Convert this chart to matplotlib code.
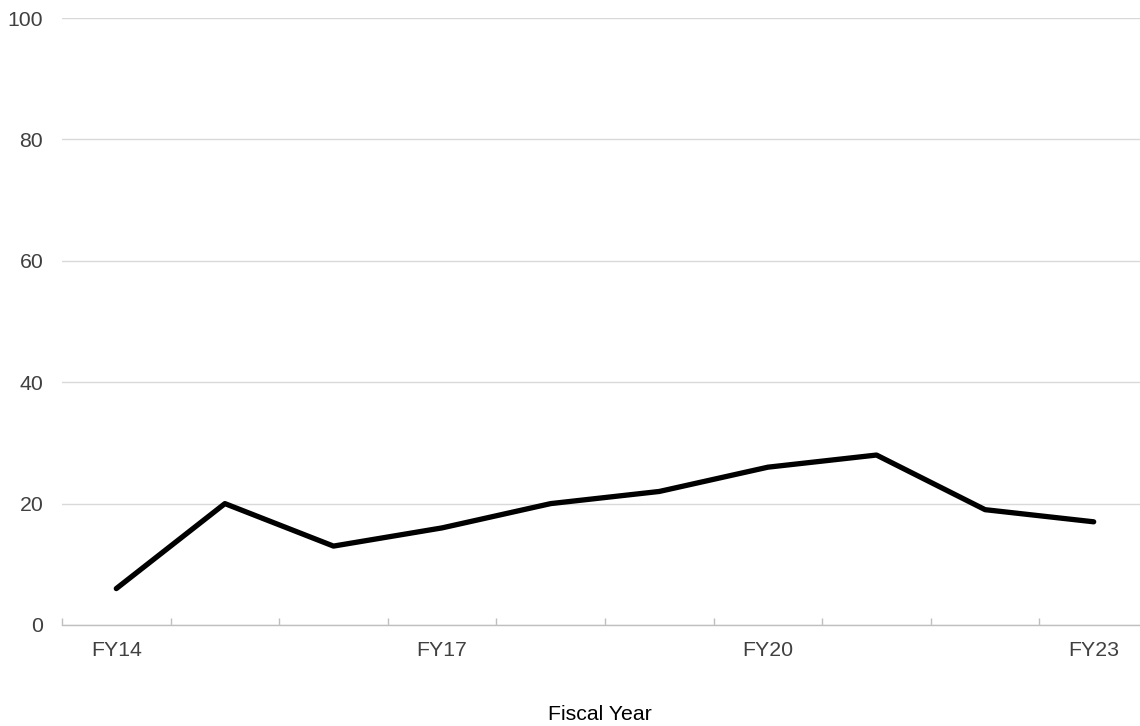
import matplotlib
matplotlib.use('Agg')
import numpy as np
import matplotlib.pyplot as plt

plt.rcParams['font.family'] = ['Liberation Sans', 'DejaVu Sans']

years = ['FY14', 'FY15', 'FY16', 'FY17', 'FY18', 'FY19', 'FY20', 'FY21', 'FY22', 'FY23']
values = [6, 20, 13, 16, 20, 22, 26, 28, 19, 17]
shown_labels = ['FY14', 'FY17', 'FY20', 'FY23']

fig = plt.figure(figsize=(11.4, 7.26), dpi=100)
ax = fig.add_axes([62/1140, 101/726, 1086/1140, 607/726])

x = np.arange(len(years))
ax.plot(x, values, color='black', lw=3.8, solid_capstyle='round', solid_joinstyle='round', zorder=3)

ax.set_xlim(-0.5, len(years) - 0.5)
ax.set_ylim(0, 100)
ax.set_yticks([0, 20, 40, 60, 80, 100])
ax.yaxis.grid(True, color='#d9d9d9', lw=1)
ax.set_axisbelow(True)

# label only every third year, ticks on category boundaries
pos = [years.index(s) for s in shown_labels]
ax.set_xticks(pos)
ax.set_xticklabels(shown_labels)
ax.set_xticks(np.arange(-0.5, len(years)), minor=True)
ax.tick_params(axis='x', which='major', length=0, pad=11.5, labelsize=15.3, labelcolor='#404040')
ax.tick_params(axis='x', which='minor', length=5, color='#bfbfbf', width=1, direction='in')
ax.tick_params(axis='y', length=0, pad=13.5, labelsize=15.3, labelcolor='#404040')

for s in ['top', 'right', 'left']:
    ax.spines[s].set_visible(False)
ax.spines['bottom'].set_color('#bfbfbf')
ax.spines['bottom'].set_linewidth(1)

fig.text(600 / 1140, 1 - 714 / 726, 'Fiscal Year', ha='center', va='center', fontsize=15.3, color='black')

fig.savefig('out.png', dpi=100)
